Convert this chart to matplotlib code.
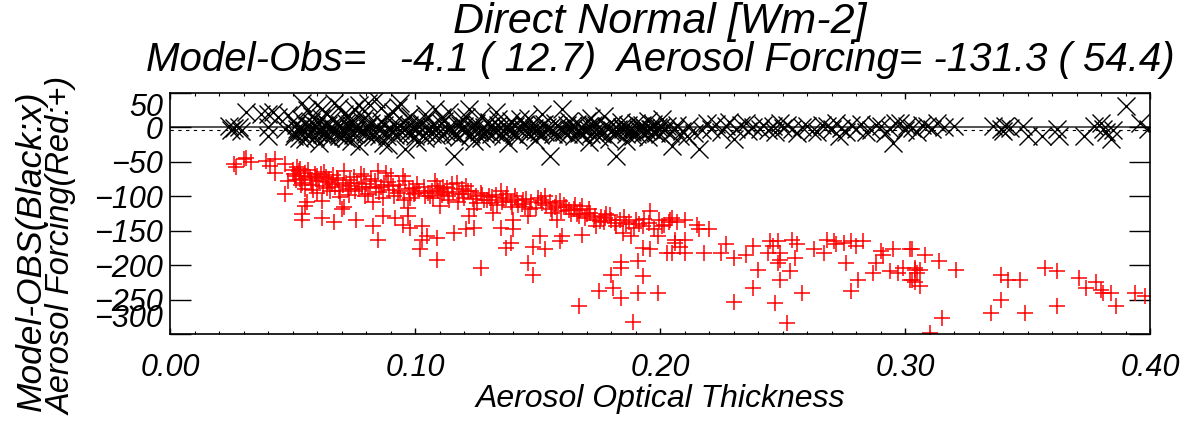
import matplotlib
matplotlib.use("Agg")
import matplotlib.pyplot as plt
from matplotlib.ticker import MultipleLocator

plt.rcParams['font.family'] = ['Liberation Sans', 'DejaVu Sans']
plt.rcParams['font.style'] = 'italic'

# ---- data ----
red_aot = [0.026,0.027,0.030,0.031,0.033,0.039,0.041,0.043,0.043,0.047,0.048,0.047,
 0.050,0.051,0.052,0.053,0.053,0.054,0.055,0.055,0.055,0.056,0.054,0.054,
 0.057,0.058,0.059,0.060,0.060,0.061,0.062,0.062,0.063,0.064,0.065,0.066,0.067,0.068,0.069,0.070,0.071,0.071,0.072,0.073,0.074,0.075,0.076,0.077,0.078,0.079,0.080,0.081,0.082,0.083,0.083,0.084,0.085,0.085,0.086,0.087,0.087,0.088,0.089,0.090,0.091,0.092,0.093,0.094,0.095,0.095,0.096,0.097,0.097,0.098,0.098,0.099,0.100,
 0.101,0.102,0.103,0.103,0.104,0.105,0.106,0.107,0.108,0.109,0.109,0.109,0.110,0.110,0.111,0.112,0.113,0.114,0.115,0.116,0.117,0.118,0.119,0.120,0.121,0.121,0.122,0.123,0.124,0.124,0.125,0.127,0.127,0.128,0.130,0.131,0.132,0.133,0.135,0.135,0.136,0.137,0.137,0.139,0.139,0.140,0.140,0.141,0.142,0.144,0.145,0.146,0.146,0.147,0.148,0.148,0.150,0.151,0.152,0.153,0.153,0.155,0.156,0.157,0.158,0.159,0.159,0.160,0.161,
 0.163,0.165,0.166,0.167,0.167,0.168,0.168,0.170,0.171,0.173,0.174,0.175,0.176,0.177,0.178,0.180,0.180,0.181,0.182,0.184,0.184,0.184,0.185,0.186,0.188,0.189,0.190,0.191,0.191,0.193,0.193,0.193,0.196,0.196,0.199,0.199,0.201,0.203,0.204,0.206,0.207,
 0.205,0.206,0.205,0.208,0.210,0.210,0.210,0.215,0.216,0.218,0.220,0.225,0.227,0.230,0.230,0.235,0.238,0.238,0.240,0.244,0.245,0.247,0.248,0.246,0.249,0.249,0.248,0.249,0.252,0.253,0.254,0.255,0.256,0.258,0.263,0.267,0.268,0.271,0.272,0.275,0.276,0.278,0.278,0.280,0.281,0.283,0.287,0.288,0.290,0.291,0.294,0.295,0.297,0.299,0.302,0.302,0.303,0.304,0.304,0.304,0.303,0.305,0.306,0.306,0.308,0.310,0.314,0.315,0.321,0.335,0.339,0.339,0.342,0.347,0.349,0.357,0.362,0.362,0.371,0.374,0.378,0.380,0.381,0.384,0.386,0.394,0.398]
red_forcing = [-53,-58,-46,-44,-50,-49,-56,-46,-66,-53,-78,-97,
 -62,-70,-58,-61,-75,-80,-66,-90,-114,-109,-126,-134,
 -72,-84,-68,-70,-95,-78,-107,-131,-65,-88,-75,-82,-138,-73,-92,-119,-63,-115,-80,-98,-85,-72,-134,-90,-68,-70,-82,-97,-75,-109,-143,-88,-63,-163,-87,-102,-129,-66,-79,-70,-85,-131,-95,-92,-70,-141,-78,-117,-129,-102,-146,-88,-95,
 -82,-177,-143,-163,-100,-158,-100,-92,-78,-85,-192,-160,-90,-114,-98,-95,-88,-105,-82,-153,-80,-97,-90,-102,-85,-148,-129,-92,-119,-146,-100,-95,-204,-105,-100,-110,-124,-98,-92,-146,-105,-102,-175,-109,-168,-134,-148,-100,-112,-105,-115,-129,-197,-119,-214,-173,-102,-158,-110,-100,-177,-109,-124,-115,-134,-165,-107,-158,-112,
 -120,-119,-126,-129,-260,-114,-156,-126,-118,-134,-143,-238,-130,-138,-125,-134,-214,-233,-143,-204,-195,-248,-153,-140,-158,-282,-134,-194,-240,-143,-216,-175,-122,-177,-158,-240,-143,-182,-134,-168,-138,
 -131,-163,-182,-173,-134,-163,-182,-141,-148,-182,-148,-182,-170,-190,-253,-185,-172,-233,-207,-182,-165,-255,-165,-172,-182,-192,-197,-221,-284,-209,-163,-190,-170,-240,-177,-182,-163,-165,-170,-168,-197,-165,-238,-172,-221,-165,-211,-197,-180,-185,-209,-177,-211,-204,-177,-221,-177,-224,-204,-207,-221,-211,-207,-231,-185,-298,-194,-277,-207,-270,-214,-250,-221,-221,-270,-204,-209,-260,-219,-233,-224,-236,-240,-241,-260,-241,-245]

red_aot_dense = [0.0505,0.0515,0.0525,0.0535,0.0545,0.0565,0.0575,0.0585,0.0595,0.0615,0.0625,0.0635,0.0645,0.0655,0.0665,0.0675,0.0685,0.0695,0.0705,0.0725,0.0735,0.0755,0.0765,0.0785,0.0795,0.0815,0.0835,0.0855,0.0875,0.0895,0.0915,0.0935,0.0955,0.0975,0.0995,0.1015,0.1035,0.1055,0.1075,0.1095,0.1115,0.1135,0.1155,0.1175,0.1195,0.1215,0.1235,0.1255,0.1275,0.1295,0.1315,0.1335,0.1355,0.1375,0.1395,0.1415,0.1435,0.1455,0.1475,0.1495,0.1515,0.1535,0.1555,0.1575,0.1595,0.1615,0.1635,0.1655,0.1675,0.1695,0.1715,0.1735,0.1755,0.1775,0.1795,0.1815,0.1835,0.1855,0.1875,0.1895,0.1915,0.1935,0.1955,0.1975,0.1995,0.2015,0.2035]
red_forcing_dense = [-68,-76,-64,-83,-71,-62,-77,-91,-74,-67,-85,-72,-79,-92,-69,-86,-77,-101,-83,-90,-76,-93,-81,-87,-99,-86,-78,-94,-83,-91,-100,-84,-106,-89,-97,-92,-86,-95,-103,-93,-87,-99,-94,-108,-97,-92,-104,-110,-98,-106,-101,-112,-108,-97,-115,-106,-111,-104,-109,-117,-106,-113,-119,-110,-121,-116,-125,-112,-120,-131,-124,-128,-136,-132,-127,-139,-134,-130,-137,-146,-140,-133,-139,-147,-135,-141,-138]

blk_aot = [0.024,0.025,0.026,0.028,0.029,0.031,0.037,0.040,0.040,0.040,0.042,0.044,0.047,0.048,0.050,0.051,0.052,0.053,0.054,0.055,0.055,0.056,0.057,0.058,0.058,0.059,0.060,0.061,0.062,0.062,0.063,0.064,0.065,0.066,0.067,0.067,0.068,0.069,0.070,0.071,0.072,0.072,0.073,0.074,0.075,0.075,0.076,0.077,0.078,0.079,0.080,0.081,0.081,0.082,0.083,0.084,0.085,0.086,0.087,0.088,0.089,0.090,0.091,0.092,0.093,0.094,0.094,0.095,0.096,0.097,0.098,0.099,0.100,
 0.101,0.102,0.103,0.104,0.105,0.106,0.107,0.108,0.109,0.110,0.111,0.112,0.113,0.114,0.115,0.116,0.117,0.118,0.119,0.120,0.121,0.122,0.123,0.124,0.125,0.126,0.127,0.128,0.129,0.130,0.131,0.132,0.133,0.134,0.135,0.136,0.137,0.138,0.139,0.140,0.141,0.142,0.143,0.144,0.145,0.146,0.147,0.148,0.149,0.150,0.151,0.152,0.153,0.154,0.155,0.156,0.157,0.158,0.159,0.160,0.161,0.162,0.163,0.164,0.165,0.166,0.167,0.168,0.169,0.170,0.171,0.172,0.173,0.174,0.175,0.176,0.177,0.178,0.179,0.180,0.181,0.182,0.183,0.184,0.185,0.186,0.187,0.188,0.189,0.190,0.191,0.192,0.193,0.194,0.195,0.196,0.197,0.198,0.199,0.200,
 0.201,0.202,0.203,0.204,0.205,0.206,0.207,0.208,0.209,0.211,0.212,0.214,0.216,0.217,0.219,0.221,0.223,0.225,0.227,0.228,0.230,0.231,0.233,0.235,0.236,0.238,0.241,0.242,0.244,0.246,0.247,0.249,0.250,0.252,0.254,0.256,0.258,0.260,0.262,0.264,0.266,0.268,0.270,0.272,0.273,0.274,0.276,0.278,0.280,0.282,0.284,0.286,0.288,0.290,0.292,0.294,0.295,0.296,0.298,0.300,0.301,0.303,0.305,0.307,0.309,0.311,0.313,0.316,0.320,0.336,0.339,0.340,0.341,0.343,0.348,0.350,0.356,0.362,0.363,0.373,0.377,0.380,0.381,0.382,0.384,0.385,0.390,0.396,0.399]
blk_diff = [2,-4,-1,0,-5,22,20,19,0,-12,22,15,-2,18,10,-8,-2,-7,36,-17,5,-10,2,17,-5,-14,8,-3,27,-9,3,-12,-2,12,36,-6,5,-12,-4,20,7,-15,-1,10,27,-8,2,-27,-5,14,-10,36,3,7,-14,41,-3,10,-22,-6,18,-2,5,-11,30,36,-4,8,-31,-7,17,-1,-12,
 4,-6,7,-15,12,-3,-9,27,1,-5,-12,10,-2,22,-8,-41,3,-14,-4,2,15,27,-9,-2,6,-7,-16,1,-5,8,-10,-3,22,4,-8,-12,0,-4,10,-6,2,-14,12,-2,5,-9,-3,7,-5,-2,-11,3,-7,1,-41,-4,6,-10,-1,27,-6,4,-3,-2,-12,5,-8,1,-4,10,2,-10,-6,3,-14,-3,17,0,-17,-7,5,-41,-2,8,-2,-9,4,-5,-12,7,-3,2,-8,-1,-14,-2,5,-6,0,-10,
 12,-4,2,-8,-27,-3,4,-12,-5,-12,2,-8,-31,-4,7,-2,5,-6,2,8,-17,-3,4,7,-5,1,-2,4,-4,2,-6,7,-1,3,-2,-8,1,2,-5,-7,4,2,-3,7,-12,-1,-7,3,-2,5,-7,-4,3,2,-8,-3,-22,6,7,-4,2,-1,-7,4,2,-3,7,0,2,2,-2,-5,2,-1,2,-12,-12,-2,-12,-12,2,7,-2,-7,-17,-4,31,7,-2]

blk_aot_dense = [0.0505,0.0515,0.0525,0.0535,0.0545,0.0565,0.0575,0.0595,0.0605,0.0615,0.0635,0.0645,0.0655,0.0665,0.0685,0.0695,0.0705,0.0715,0.0735,0.0745,0.0765,0.0785,0.0795,0.0805,0.0825,0.0845,0.0855,0.0875,0.0885,0.0905,0.0925,0.0935,0.0955,0.0975,0.0985,0.1005,0.1025,0.1045,0.1065,0.1085,0.1105,0.1125,0.1145,0.1165,0.1185,0.1205,0.1225,0.1245,0.1265,0.1285,0.1305,0.1325,0.1345,0.1365,0.1385,0.1405,0.1425,0.1445,0.1465,0.1485,0.1505,0.1525,0.1545,0.1565,0.1585,0.1605,0.1625,0.1645,0.1665,0.1685,0.1705,0.1725,0.1745,0.1765,0.1785,0.1805,0.1825,0.1845,0.1865,0.1885,0.1905,0.1925,0.1945,0.1965,0.1985,0.2005,
 0.056,0.060,0.064,0.069,0.073,0.077,0.079,0.086,0.091,0.097,0.104,0.111,0.119,0.127,0.134,0.146,0.152,0.163,0.172,0.195,
 0.061,0.074,0.089,0.101,0.124,0.138,0.149,0.171,0.186]
blk_diff_dense = [-12,4,-15,12,-4,-13,8,2,-8,14,-6,4,-15,-1,-9,3,-13,-6,5,-11,-3,9,-7,-1,-9,2,-12,4,-13,-7,1,-10,-4,3,-9,-3,5,-8,2,-11,6,-6,-1,-9,4,-7,-12,3,-4,-10,2,-7,-1,-5,4,-10,-3,3,-8,-1,-6,5,-3,-9,2,-5,-10,3,-4,-9,-2,4,-6,-10,2,-4,-8,1,-3,-7,-10,3,-5,-2,-8,1,
 25,32,20,30,16,33,24,28,22,14,20,15,12,16,12,14,20,10,14,10,
 -22,-20,-25,-21,-20,-22,-18,-21,-19]

mean_diff = -4.1

x_major = [0.0, 0.1, 0.2, 0.3, 0.4]
x_labels = ['0.00', '0.10', '0.20', '0.30', '0.40']
y_major = [50, 0, -50, -100, -150, -200, -250, -300]

title1 = 'Direct Normal [Wm-2]'
title2 = 'Model-Obs=   -4.1 ( 12.7)  Aerosol Forcing= -131.3 ( 54.4)'
xlabel = 'Aerosol Optical Thickness'
ylabel1 = 'Model-OBS(Black:x)'
ylabel2 = 'Aerosol Forcing(Red:+)'

# ---- figure ----
W, H = 1191, 421
fig = plt.figure(figsize=(W/100, H/100), dpi=100)
L, R, T, B = 170, 1150, 93, 334
ax = fig.add_axes([L/W, 1-B/H, (R-L)/W, (B-T)/H])

ax.axhline(0, color='#444444', lw=1.3, zorder=1)
ax.axhline(mean_diff, color='black', lw=0.8, ls=(0, (3, 4)), zorder=1)

ax.plot(red_aot + red_aot_dense, red_forcing + red_forcing_dense, ls='none',
        marker='+', ms=11.5, mew=1.1, color='red', zorder=2)
ax.plot(blk_aot + blk_aot_dense, blk_diff + blk_diff_dense, ls='none',
        marker='x', ms=13.5, mew=1.0, color='black', zorder=3)

ax.set_xlim(0, 0.4)
ax.set_ylim(-300, 50)
ax.set_xticks(x_major)
ax.set_xticklabels(x_labels)
ax.xaxis.set_minor_locator(MultipleLocator(0.01))
ax.set_yticks(y_major)
ax.tick_params(axis='x', which='major', direction='in', length=4.5, width=1,
               top=True, bottom=True, labelsize=22, pad=14)
ax.tick_params(axis='x', which='minor', direction='in', length=2.5, width=0.8,
               top=True, bottom=True)
ax.tick_params(axis='y', which='major', direction='in', length=15, width=1,
               left=True, right=True, labelsize=22, pad=5)
ylabs = ax.get_yticklabels()
ylabs[0].set_va('top')
ylabs[-1].set_va('bottom')
for s in ax.spines.values():
    s.set_linewidth(1.2)

cx = (L + R) / 2 / W
fig.text(cx, 1 - 22/H, title1, ha='center', va='center', fontsize=31)
fig.text(cx, 1 - 60/H, title2, ha='center', va='center', fontsize=29)
fig.text(cx, 1 - 399/H, xlabel, ha='center', va='center', fontsize=23)
fig.text(31/W, 1 - 251/H, ylabel1, ha='center', va='center', rotation=90, fontsize=25.5)
fig.text(62/W, 1 - 246/H, ylabel2, ha='center', va='center', rotation=90, fontsize=23.5)

fig.savefig('out.png', dpi=100)
